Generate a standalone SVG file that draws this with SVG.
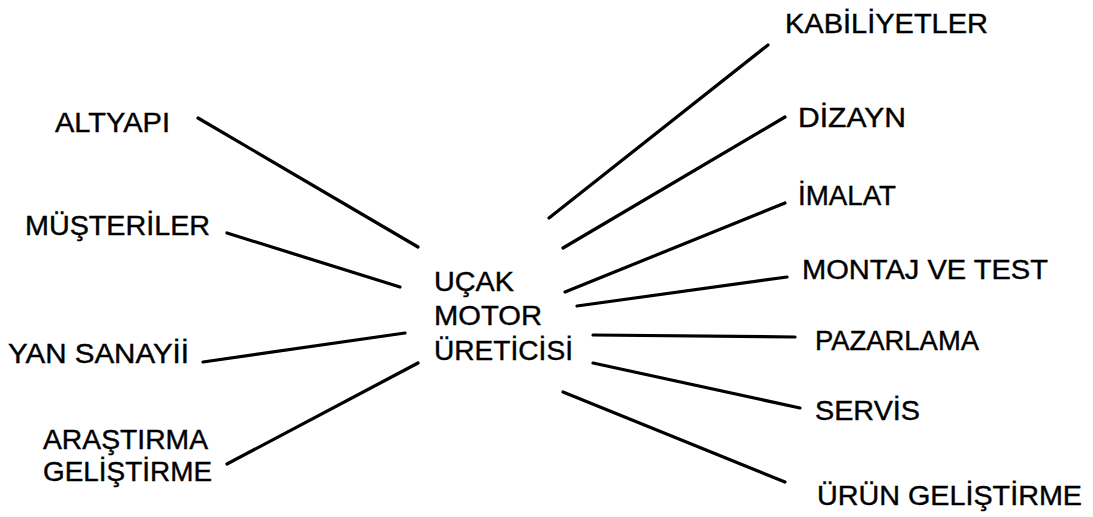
<svg xmlns="http://www.w3.org/2000/svg" width="1093" height="517" viewBox="0 0 1093 517">
  <style>
    text { font-family: "Liberation Sans", Arial, sans-serif; font-size: 28px; fill: #000; stroke: #000; stroke-width: 0.4; }
    .links line { stroke: #000; stroke-width: 3.2; stroke-linecap: round; }
  </style>
  <rect width="1093" height="517" fill="#fff"/>

  <!-- spokes from the hub to each topic -->
  <g id="connectors" class="links">
    <line x1="198" y1="118" x2="418" y2="247"/>
    <line x1="227" y1="233" x2="400" y2="287"/>
    <line x1="203" y1="362" x2="405" y2="333"/>
    <line x1="227" y1="464" x2="418" y2="363"/>
    <line x1="549" y1="218" x2="768" y2="45"/>
    <line x1="563" y1="248" x2="785" y2="117"/>
    <line x1="565" y1="292" x2="785" y2="203"/>
    <line x1="577" y1="306" x2="787" y2="277"/>
    <line x1="593" y1="335" x2="795" y2="337"/>
    <line x1="593" y1="363" x2="800" y2="408"/>
    <line x1="563" y1="392" x2="785" y2="482"/>
  </g>

  <!-- hub -->
  <g id="hub">
    <text x="434" y="291" textLength="80" lengthAdjust="spacingAndGlyphs">UÇAK</text>
    <text x="434" y="325" textLength="108" lengthAdjust="spacingAndGlyphs">MOTOR</text>
    <text x="434" y="360" textLength="139" lengthAdjust="spacingAndGlyphs">ÜRETİCİSİ</text>
  </g>

  <!-- left topics -->
  <g id="altyapi"><text x="55" y="132" textLength="115" lengthAdjust="spacingAndGlyphs">ALTYAPI</text></g>
  <g id="musteriler"><text x="25" y="235" textLength="185" lengthAdjust="spacingAndGlyphs">MÜŞTERİLER</text></g>
  <g id="yan-sanayii"><text x="8" y="363" textLength="181" lengthAdjust="spacingAndGlyphs">YAN SANAYİİ</text></g>
  <g id="arge">
    <text x="43" y="449" textLength="165" lengthAdjust="spacingAndGlyphs">ARAŞTIRMA</text>
    <text x="43" y="481" textLength="169" lengthAdjust="spacingAndGlyphs">GELİŞTİRME</text>
  </g>

  <!-- right topics -->
  <g id="kabiliyetler"><text x="785" y="33" textLength="203" lengthAdjust="spacingAndGlyphs">KABİLİYETLER</text></g>
  <g id="dizayn"><text x="798" y="127" textLength="108" lengthAdjust="spacingAndGlyphs">DİZAYN</text></g>
  <g id="imalat"><text x="798" y="205" textLength="98" lengthAdjust="spacingAndGlyphs">İMALAT</text></g>
  <g id="montaj"><text x="802" y="279" textLength="246" lengthAdjust="spacingAndGlyphs">MONTAJ VE TEST</text></g>
  <g id="pazarlama"><text x="815" y="350" textLength="164" lengthAdjust="spacingAndGlyphs">PAZARLAMA</text></g>
  <g id="servis"><text x="815" y="420" textLength="105" lengthAdjust="spacingAndGlyphs">SERVİS</text></g>
  <g id="urun"><text x="817" y="505" textLength="265" lengthAdjust="spacingAndGlyphs">ÜRÜN GELİŞTİRME</text></g>
</svg>
